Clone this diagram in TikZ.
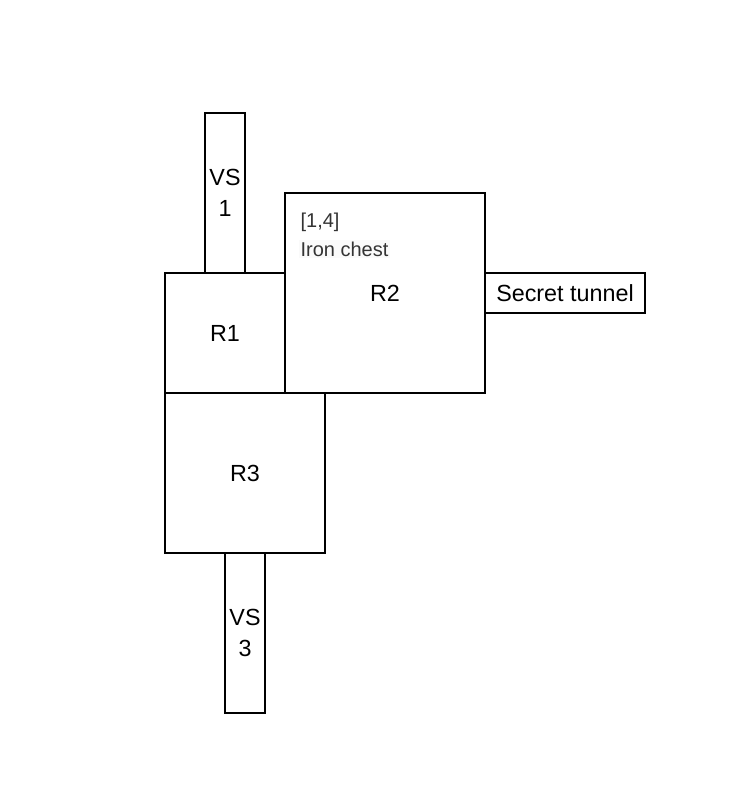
\documentclass[tikz,border=0pt]{standalone}
\usepackage{fontspec}
\setmainfont{Liberation Sans}
\tikzset{
  room/.style={line width=1.4pt},
  roomlabel/.style={font=\fontsize{17.5}{23}\selectfont, align=center},
  notelabel/.style={font=\fontsize{15}{16}\selectfont, text=black!80, anchor=west, inner sep=1pt}
}
\begin{document}
\begin{tikzpicture}[x=0.75pt,y=0.75pt]
\useasboundingbox (0,0) rectangle (748,804);
% shafts and rooms
\draw[room] (205,531) rectangle (245,691);
\node[roomlabel] (vs1) at (225,611) {VS\\1};
\draw[room] (165,411) rectangle (285,531);
\node[roomlabel] (r1) at (225,471) {R1};
\draw[room] (285,411) rectangle (485,611);
\node[roomlabel] (r2) at (385,511) {R2};
\node[notelabel] (pos) at (299,582) {[1,4]};
\node[notelabel, fill=black!2] (chest) at (299,555) {Iron chest};
\draw[room] (485,491) rectangle (645,531);
\node[roomlabel] (tunnel) at (565,511) {Secret tunnel};

\draw[room] (165,251) rectangle (325,411);
\node[roomlabel] (r3) at (245,331) {R3};
\draw[room] (225,91) rectangle (265,251);
\node[roomlabel] (vs3) at (245,171) {VS\\3};
\end{tikzpicture}
\end{document}
